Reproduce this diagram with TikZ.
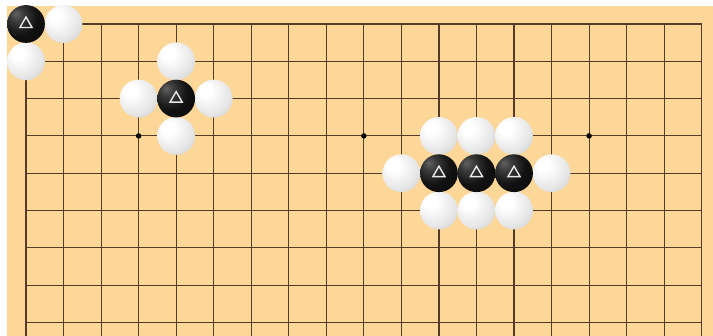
\documentclass[tikz,border=0pt]{standalone}
\definecolor{board}{RGB}{253,215,152}
\definecolor{gridline}{RGB}{84,60,40}
\definecolor{markc}{RGB}{232,232,232}
\pgfdeclareradialshading{wstone}{\pgfpoint{-12bp}{12bp}}{color(0bp)=(white); color(8bp)=(white); color(28bp)=(white!90!black); color(48bp)=(white!72!black); color(70bp)=(white!62!black)}
\pgfdeclareradialshading{bstone}{\pgfpoint{-14bp}{14bp}}{color(0bp)=(black!62); color(10bp)=(black!78); color(24bp)=(black!93); color(45bp)=(black!97); color(70bp)=(black)}
\begin{document}
\begin{tikzpicture}[x=1pt,y=-1pt,
  stone/.style={circle, minimum size=37.8pt, inner sep=0pt, outer sep=0pt},
  wst/.style={stone, shading=wstone},
  bst/.style={stone, shading=bstone},
  tri/.style={draw=markc, line width=1.4pt, line join=miter},
  gridl/.style={draw=gridline, line width=1.15pt},
  hoshi/.style={circle, fill=black, minimum size=5.5pt, inner sep=0pt}]
\useasboundingbox (0,0) rectangle (713,336);
\fill[board] (7,6) rectangle (713,336);
\begin{scope}
\clip (7,6) rectangle (713,336);
\begin{scope}[shift={(26pt,-24pt)}, x=37.54pt, y=-37.3pt]
  \foreach \c in {0,...,18} \draw[gridl] (\c,0) -- (\c,9);
  \foreach \r in {0,...,8} \draw[gridl] (0,\r) -- (18,\r);
\end{scope}
\end{scope}
\begin{scope}[shift={(26pt,-24pt)}, x=37.54pt, y=-37.3pt]
  \node[hoshi] (h1) at (3,3) {};
  \node[hoshi] (h2) at (9,3) {};
  \node[hoshi] (h3) at (15,3) {};
  % white stones
  \foreach \n/\c/\r in {w1/1/0, w2/0/1,
      w3/4/1, w4/3/2, w5/5/2, w6/4/3,
      w7/11/3, w8/12/3, w9/13/3, w10/10/4, w11/14/4, w12/11/5, w13/12/5, w14/13/5}
    \node[wst] (\n) at (\c,\r) {};
  % black stones with triangle marks
  \foreach \n/\c/\r in {b1/0/0, b2/4/2, b3/11/4, b4/12/4, b5/13/4} {
    \node[bst] (\n) at (\c,\r) {};
    \draw[tri] ([shift={(90:7pt)}]\n.center) -- ([shift={(-150:7pt)}]\n.center)
      -- ([shift={(-30:7pt)}]\n.center) -- cycle;
  }
\end{scope}
\end{tikzpicture}
\end{document}
